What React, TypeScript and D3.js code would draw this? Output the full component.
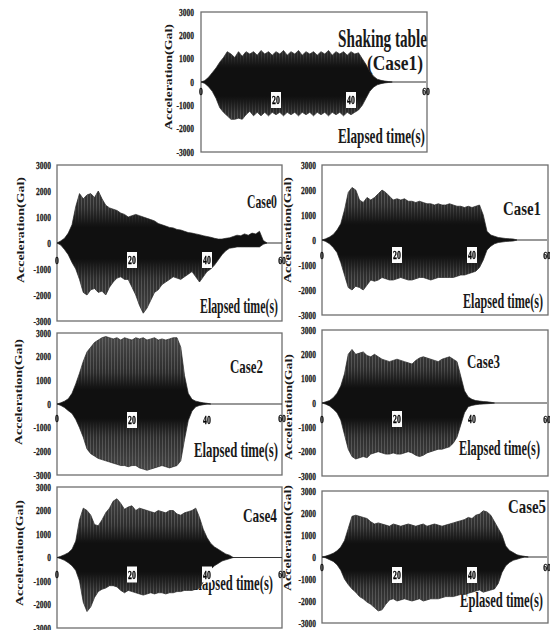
import * as d3 from "d3";

// acceleration envelopes (Gal), one peak pair per second starting at t = 0
const sampleStep = 1;

const tableUpper = [0, 60, 200, 400, 600, 850, 1050, 1300, 1200, 1050, 1300, 1100, 1300, 1200, 1300, 1150, 1350, 1200, 1300, 1150, 1300, 1200, 1350, 1150, 1300, 1200, 1350, 1150, 1300, 1200, 1300, 1150, 1300, 1200, 1350, 1150, 1300, 1200, 1300, 1150, 1300, 1200, 1250, 1000, 750, 450, 250, 120, 70, 40, 20, 0];
const tableLower = [0, -60, -200, -400, -700, -1100, -1300, -1450, -1600, -1600, -1550, -1600, -1400, -1250, -1450, -1300, -1450, -1300, -1450, -1300, -1400, -1300, -1450, -1300, -1400, -1300, -1450, -1300, -1400, -1300, -1450, -1300, -1400, -1300, -1450, -1300, -1400, -1300, -1450, -1300, -1400, -1300, -1200, -1000, -700, -400, -220, -120, -70, -40, -20, 0];

const case0Upper = [0, 80, 180, 380, 700, 1400, 1900, 1700, 1850, 1900, 1750, 2000, 1700, 1450, 1350, 1300, 1250, 1150, 1100, 1000, 1050, 1100, 1050, 1000, 950, 900, 850, 750, 700, 650, 600, 580, 520, 500, 450, 400, 380, 350, 320, 280, 250, 220, 180, 150, 150, 180, 200, 250, 300, 280, 350, 300, 380, 350, 450, 100, 0];
const case0Lower = [0, -80, -250, -450, -750, -1000, -1400, -1900, -2000, -1800, -1750, -1900, -1850, -2000, -1700, -1500, -1350, -1300, -1400, -1400, -1700, -2000, -2400, -2700, -2500, -2200, -1900, -1800, -1600, -1500, -1400, -1300, -1350, -1400, -1300, -1200, -1100, -1300, -1500, -1300, -1100, -1000, -850, -650, -450, -300, -200, -180, -150, -150, -150, -150, -150, -150, -150, -50, 0];

const case1Upper = [0, 50, 120, 220, 400, 650, 1200, 1900, 2100, 2000, 1600, 1500, 1700, 1600, 1700, 1850, 2000, 1900, 1750, 1600, 1650, 1600, 1650, 1550, 1550, 1500, 1550, 1500, 1450, 1450, 1400, 1450, 1400, 1400, 1450, 1400, 1350, 1350, 1300, 1350, 1300, 1350, 1400, 1000, 350, 200, 150, 100, 80, 60, 50, 40, 0];
const case1Lower = [0, -60, -150, -300, -500, -900, -1400, -1900, -2000, -1850, -1900, -2000, -1800, -1600, -1650, -1600, -1500, -1550, -1600, -1600, -1550, -1500, -1550, -1600, -1600, -1550, -1500, -1500, -1550, -1600, -1550, -1500, -1500, -1500, -1500, -1500, -1450, -1400, -1400, -1350, -1300, -1250, -1100, -800, -400, -250, -150, -100, -80, -60, -50, -40, 0];

const case2Upper = [0, 50, 120, 220, 450, 850, 1300, 1800, 2200, 2400, 2600, 2700, 2800, 2850, 2800, 2750, 2800, 2700, 2800, 2750, 2700, 2800, 2750, 2800, 2700, 2750, 2800, 2700, 2750, 2700, 2750, 2800, 2800, 2400, 1200, 450, 200, 120, 80, 50, 30, 0];
const case2Lower = [0, -60, -150, -280, -400, -650, -1000, -1400, -1900, -2100, -2200, -2300, -2350, -2400, -2450, -2500, -2550, -2600, -2600, -2650, -2600, -2600, -2700, -2750, -2800, -2750, -2700, -2650, -2600, -2650, -2700, -2650, -2600, -2400, -1500, -700, -300, -120, -60, -30, 0, 0];

const case3Upper = [0, 50, 100, 220, 400, 700, 1200, 2000, 2200, 2000, 2050, 2100, 1950, 1900, 2000, 1900, 1800, 1750, 1700, 1750, 1800, 1750, 1700, 1650, 1600, 1750, 1850, 1900, 1850, 1800, 1750, 1700, 1800, 1850, 1900, 1800, 1700, 1100, 500, 250, 150, 100, 80, 60, 50, 30, 0];
const case3Lower = [0, -50, -120, -250, -400, -700, -1300, -1900, -2200, -2300, -2250, -2200, -2250, -2100, -2050, -2000, -2050, -2100, -2100, -2050, -2100, -2100, -2050, -2000, -2050, -2150, -2200, -2150, -2050, -2000, -1950, -1900, -1900, -1850, -1800, -1650, -1400, -900, -400, -150, -100, -70, -50, -40, -30, -20, 0];

const case4Upper = [0, 50, 120, 200, 350, 700, 1600, 2100, 2000, 1800, 1400, 1350, 1600, 1900, 2100, 2400, 2500, 2300, 2050, 2150, 2200, 2000, 2100, 2050, 2000, 1950, 1900, 2000, 1950, 1900, 2000, 2000, 1850, 1800, 1900, 1950, 2000, 2100, 1700, 1200, 850, 600, 450, 350, 250, 150, 100, 0];
const case4Lower = [0, -50, -120, -220, -350, -550, -1000, -1900, -2300, -2100, -1700, -1450, -1350, -1300, -1200, -1200, -1250, -1400, -1500, -1400, -1450, -1500, -1550, -1600, -1550, -1500, -1550, -1500, -1500, -1550, -1500, -1500, -1450, -1450, -1400, -1400, -1400, -1350, -1300, -1050, -750, -500, -350, -250, -150, -100, -50, 0];

const case5Upper = [0, 40, 100, 170, 280, 450, 750, 1300, 1850, 1900, 1850, 1800, 1750, 1600, 1500, 1550, 1500, 1450, 1400, 1500, 1450, 1400, 1450, 1500, 1450, 1400, 1450, 1500, 1400, 1450, 1500, 1450, 1400, 1450, 1500, 1550, 1600, 1650, 1700, 1800, 1750, 1900, 1950, 2100, 2050, 1900, 1600, 1300, 1000, 500, 300, 200, 100, 60, 30, 0];
const case5Lower = [0, -40, -120, -200, -350, -600, -1000, -1250, -1450, -1600, -1800, -1900, -2050, -2150, -2300, -2450, -2400, -2150, -1950, -1900, -2000, -1950, -1900, -1950, -2000, -1950, -1900, -2000, -1950, -1900, -1900, -1900, -1850, -1800, -1800, -1800, -1750, -1700, -1700, -1650, -1600, -1550, -1500, -1600, -1550, -1500, -1450, -1200, -700, -400, -250, -150, -100, -50, 0, 0];

const yTicks = [3000, 2000, 1000, 0, -1000, -2000, -3000];
const xTicks = [0, 20, 40, 60];
const yTitle = "Acceleration(Gal)";

const FONT = "'Liberation Serif', 'Times New Roman', serif";
const INK = "#1a1a1a";

type Label = { text: string; x: number; y: number; w: number; size: number };

// layout of each panel in page pixels
const panels = [
  {
    upper: tableUpper, lower: tableLower,
    x0: 201, x1: 426, frameR: 427, yTop: 12, yBot: 152,
    tickX: 194, titleX: 168, titleY: 77, endDy: 9, midDy: 18,
    labels: [
      { text: "Shaking table", x: 338, y: 47, w: 89, size: 25 },
      { text: "(Case1)", x: 367, y: 70, w: 56, size: 22 },
      { text: "Elapsed time(s)", x: 338, y: 143, w: 87, size: 21 },
    ] as Label[],
  },
  {
    upper: case0Upper, lower: case0Lower,
    x0: 57, x1: 282, frameR: 282, yTop: 165, yBot: 321,
    tickX: 51, titleX: 20, titleY: 230, endDy: 17, midDy: 17,
    labels: [
      { text: "Case0", x: 247, y: 208, w: 30, size: 19 },
      { text: "Elapsed time(s)", x: 200, y: 313, w: 78, size: 20 },
    ] as Label[],
  },
  {
    upper: case1Upper, lower: case1Lower,
    x0: 322, x1: 547, frameR: 548, yTop: 165, yBot: 315,
    tickX: 316, titleX: 287, titleY: 230, endDy: 15, midDy: 15,
    labels: [
      { text: "Case1", x: 503, y: 215, w: 38, size: 19 },
      { text: "Elapsed time(s)", x: 463, y: 308, w: 80, size: 20 },
    ] as Label[],
  },
  {
    upper: case2Upper, lower: case2Lower,
    x0: 57, x1: 282, frameR: 282, yTop: 333, yBot: 475,
    tickX: 51, titleX: 18, titleY: 392, endDy: 14, midDy: 16,
    labels: [
      { text: "Case2", x: 230, y: 373, w: 33, size: 19 },
      { text: "Elapsed time(s)", x: 194, y: 457, w: 84, size: 20 },
    ] as Label[],
  },
  {
    upper: case3Upper, lower: case3Lower,
    x0: 322, x1: 547, frameR: 548, yTop: 330, yBot: 476,
    tickX: 316, titleX: 288, titleY: 407, endDy: 16, midDy: 16,
    labels: [
      { text: "Case3", x: 467, y: 368, w: 33, size: 19 },
      { text: "Elapsed time(s)", x: 459, y: 455, w: 81, size: 20 },
    ] as Label[],
  },
  {
    upper: case4Upper, lower: case4Lower,
    x0: 57, x1: 282, frameR: 282, yTop: 487, yBot: 628,
    tickX: 51, titleX: 19, titleY: 553, endDy: 16, midDy: 17,
    labels: [
      { text: "Case4", x: 243, y: 522, w: 34, size: 19 },
      { text: "Elapsed time(s)", x: 190, y: 590, w: 83, size: 20 },
    ] as Label[],
  },
  {
    upper: case5Upper, lower: case5Lower,
    x0: 322, x1: 547, frameR: 548, yTop: 491, yBot: 623,
    tickX: 316, titleX: 287, titleY: 538, endDy: 10, midDy: 18,
    labels: [
      { text: "Case5", x: 508, y: 513, w: 38, size: 19 },
      { text: "Eplased time(s)", x: 460, y: 607, w: 83, size: 20 },
    ] as Label[],
  },
];

type PanelDef = (typeof panels)[number];

function Panel({ p, id }: { p: PanelDef; id: number }) {
  const x = d3.scaleLinear().domain([0, 60]).range([p.x0, p.x1]);
  const y = d3.scaleLinear().domain([-3000, 3000]).range([p.yBot, p.yTop]);
  const n = Math.max(p.upper.length, p.lower.length);
  const area = d3
    .area<number>()
    .x((i) => x(i * sampleStep))
    .y0((i) => y(p.lower[i] ?? 0))
    .y1((i) => y(p.upper[i] ?? 0));
  const zeroY = y(0);
  const d = area(d3.range(n)) ?? "";
  const gid = `wave-grad-${id}`;
  const fid = `fringe-grad-${id}`;
  const mid = `fringe-mask-${id}`;

  return (
    <g fontFamily={FONT} fontWeight="bold" fill={INK}>
      <defs>
        {/* dense core near zero, lighter fringe toward the peaks */}
        <linearGradient id={gid} gradientUnits="userSpaceOnUse" x1={0} x2={0} y1={y(3000)} y2={y(-3000)}>
          <stop offset="0%" stopColor="#4a4a4a" />
          <stop offset="28%" stopColor="#2c2c2c" />
          <stop offset="40%" stopColor="#101010" />
          <stop offset="60%" stopColor="#101010" />
          <stop offset="72%" stopColor="#2c2c2c" />
          <stop offset="100%" stopColor="#4a4a4a" />
        </linearGradient>
        <linearGradient id={fid} gradientUnits="userSpaceOnUse" x1={0} x2={0} y1={y(3000)} y2={y(-3000)}>
          <stop offset="0%" stopColor="#fff" />
          <stop offset="25%" stopColor="#fff" />
          <stop offset="38%" stopColor="#000" />
          <stop offset="62%" stopColor="#000" />
          <stop offset="75%" stopColor="#fff" />
          <stop offset="100%" stopColor="#fff" />
        </linearGradient>
        <mask id={mid} maskUnits="userSpaceOnUse" x={p.x0} y={p.yTop} width={p.x1 - p.x0} height={p.yBot - p.yTop}>
          <rect x={p.x0} y={p.yTop} width={p.x1 - p.x0} height={p.yBot - p.yTop} fill={`url(#${fid})`} />
        </mask>
      </defs>

      <rect
        x={p.x0}
        y={p.yTop}
        width={p.frameR - p.x0}
        height={p.yBot - p.yTop}
        fill="none"
        stroke="#6e6e6e"
        strokeWidth={1.3}
      />

      {/* y tick labels */}
      {yTicks.map((v) => (
        <text
          key={v}
          transform={`translate(${p.tickX},${y(v) + 3.5}) scale(0.75,1)`}
          textAnchor="end"
          fontSize={10}
          stroke={INK}
          strokeWidth={0.25}
        >
          {v}
        </text>
      ))}

      <text
        transform={`translate(${p.titleX},${p.titleY}) rotate(-90)`}
        x={-53}
        y={4}
        fontSize={11}
        textLength={106}
        lengthAdjust="spacingAndGlyphs"
      >
        {yTitle}
      </text>

      {p.labels.map((l) => (
        <text
          key={l.text}
          x={l.x}
          y={l.y}
          fontSize={l.size}
          textLength={l.w}
          lengthAdjust="spacingAndGlyphs"
        >
          {l.text}
        </text>
      ))}

      <line x1={x(0)} x2={x(60)} y1={zeroY} y2={zeroY} stroke="#333" strokeWidth={1.2} />
      <path d={d} fill={`url(#${gid})`} stroke="#222" strokeWidth={0.7} />
      <path d={d} fill="url(#wave-stripes)" mask={`url(#${mid})`} />

      {/* x tick labels: 20 and 40 sit in white boxes on top of the trace */}
      <g opacity={0.99}>
        {xTicks.map((t) => {
          const boxed = t !== 0 && t !== 60;
          const cy = zeroY + (boxed ? p.midDy : p.endDy);
          return (
            <g key={t}>
              {boxed && <rect x={x(t) - 5} y={cy - 8} width={10} height={16} fill="#fff" />}
              <text
                transform={`translate(${x(t)},${cy + 4}) scale(${boxed ? 0.6 : 0.7},1)`}
                textAnchor="middle"
                fontSize={boxed ? 13 : 11}
                fill="#000"
                stroke="#000"
                strokeWidth={0.3}
              >
                {t}
              </text>
            </g>
          );
        })}
      </g>
    </g>
  );
}

export default function App() {
  return (
    <svg
      width={550}
      height={630}
      style={{ position: "absolute", left: 0, top: 0, background: "#fff" }}
    >
      <defs>
        <pattern id="wave-stripes" patternUnits="userSpaceOnUse" width={3} height={10}>
          <rect x={0} y={0} width={0.8} height={10} fill="#aaaaaa" fillOpacity={0.35} />
        </pattern>
      </defs>
      {panels.map((p, i) => (
        <Panel key={i} p={p} id={i} />
      ))}
    </svg>
  );
}
